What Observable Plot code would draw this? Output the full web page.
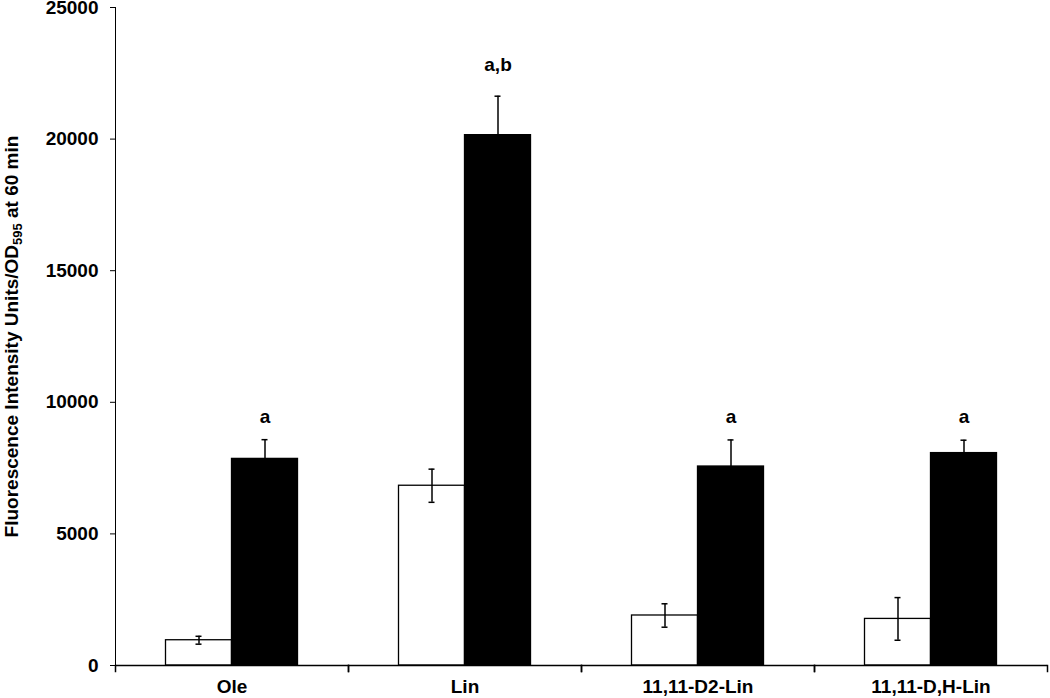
<!DOCTYPE html>
<html><head><meta charset="utf-8">
<script src="https://cdn.jsdelivr.net/npm/d3@7"></script>
<script src="https://cdn.jsdelivr.net/npm/@observablehq/plot@0.6"></script>
<style>body{margin:0;background:#fff}</style>
</head><body><div id="chart"></div>
<script>
const categories = ["Ole", "Lin", "11,11-D2-Lin", "11,11-D,H-Lin"];
const series = ["open", "filled"];
const seriesFill = ["white", "black"];
const openMean = [960, 6830, 1900, 1770];
const openErr = [150, 630, 445, 810];
const filledMean = [7850, 20150, 7560, 8070];
const filledErr = [730, 1480, 1010, 490];
const sigText = ["a", "a,b", "a", "a"];
const sigValue = [9450, 22800, 9450, 9450];
const yTicks = [0, 5000, 10000, 15000, 20000, 25000];
const yLabelMain = "Fluorescence Intensity Units/OD";
const yLabelSub = "595";
const yLabelTail = " at 60 min";

const rows = [];
categories.forEach((c, i) => {
  rows.push({cat: c, s: series[0], v: openMean[i], e: openErr[i]});
  rows.push({cat: c, s: series[1], v: filledMean[i], e: filledErr[i]});
});
const sigRows = categories.map((c, i) => ({cat: c, s: series[1], y: sigValue[i], t: sigText[i]}));

const W = 1050, H = 698, mt = 7, mb = 33, ml = 114.5, mr = 2;
const plot = Plot.plot({
  width: W, height: H,
  marginTop: mt, marginBottom: mb, marginLeft: ml, marginRight: mr,
  style: {fontFamily: "'Liberation Sans', Arial, sans-serif", fontSize: "19px", fontWeight: "bold", color: "black", background: "white"},
  fx: {domain: categories, padding: 0, label: null, axis: "bottom", tickSize: 0, tickPadding: 14},
  x: {domain: series, paddingInner: 0, paddingOuter: 0.742, axis: null},
  y: {domain: [0, 25000], ticks: yTicks, tickFormat: d => String(d), tickSize: 5, tickPadding: 12,
      line: true, label: yLabelMain + yLabelSub + yLabelTail, labelAnchor: "center", labelOffset: 111, labelArrow: "none"},
  color: {domain: series, range: seriesFill},
  marks: [
    Plot.barY(rows, {fx: "cat", x: "s", y: "v", fill: "s", stroke: "black", strokeWidth: 1.3}),
    Plot.ruleX(rows, {fx: "cat", x: "s", y1: d => d.v - d.e, y2: d => d.v + d.e, strokeWidth: 1.5}),
    Plot.tickY(rows, {fx: "cat", x: "s", y: d => d.v + d.e, insetLeft: 30, insetRight: 30, strokeWidth: 1.5}),
    Plot.tickY(rows, {fx: "cat", x: "s", y: d => d.v - d.e, insetLeft: 30, insetRight: 30, strokeWidth: 1.5}),
    Plot.text(sigRows, {fx: "cat", x: "s", y: "y", text: "t", fill: "black"}),
    Plot.ruleY([0], {strokeWidth: 1.5}),
    Plot.frame({anchor: "left", insetTop: H - mt - mb, insetBottom: -6, strokeWidth: 1.5}),
    Plot.frame({anchor: "right", insetTop: H - mt - mb, insetBottom: -6, strokeWidth: 1.5})
  ]
});
const lab = d3.select(plot).select('g[aria-label="y-axis label"] text');
if (!lab.empty()) {
  lab.text(null).style("white-space", "pre");
  lab.append("tspan").text(yLabelMain);
  lab.append("tspan").attr("font-size", "13px").attr("dy", "4").text(yLabelSub);
  lab.append("tspan").attr("dy", "-4").text(yLabelTail);
}
document.getElementById("chart").appendChild(plot);
</script>
</body></html>
